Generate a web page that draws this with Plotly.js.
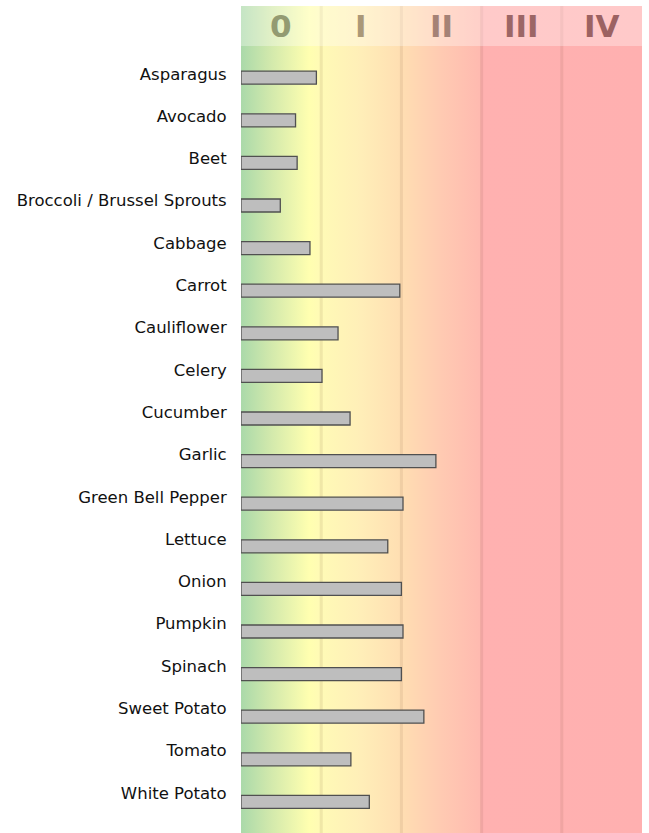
<!DOCTYPE html>
<html>
<head>
<meta charset="utf-8">
<script src="https://cdn.plot.ly/plotly-3.0.1.min.js"></script>
<style>html,body{margin:0;padding:0;background:#fff;}#chart{width:649px;height:833px;}</style>
</head>
<body>
<div id="chart"></div>
<script>
// ---- data ----
var vegetables = ["Asparagus","Avocado","Beet","Broccoli / Brussel Sprouts","Cabbage","Carrot",
  "Cauliflower","Celery","Cucumber","Garlic","Green Bell Pepper","Lettuce","Onion","Pumpkin",
  "Spinach","Sweet Potato","Tomato","White Potato"];
var levels = [0.94,0.68,0.70,0.49,0.86,1.98,1.21,1.01,1.36,2.43,2.02,1.83,2.00,2.02,2.00,2.28,1.37,1.60];
var zoneLabels = ["0","I","II","III","IV"];

// ---- style ----
var zoneLabelColors = ["#939b72","#aa9878","#a58276","#9c6666","#9c6262"];
var W = 649, H = 833;
var M = {l:241, r:7, t:6, b:0};
var plotH = H - M.t - M.b;         // background axis in pixel-like units
var headerH = 40;
var xMax = zoneLabels.length;

function catRange(firstCenter, pitch){
  var t = -(firstCenter - M.t)/pitch;
  return [t + plotH/pitch, t];
}

var traces = [];
// gradient background
traces.push({
  type:"scatter", mode:"lines", x:[0,xMax,xMax,0,0], y:[0,0,plotH,plotH,0],
  fill:"toself", line:{width:0}, hoverinfo:"skip", showlegend:false,
  fillgradient:{type:"horizontal", start:0, stop:xMax, colorscale:[
    [0.00,"rgb(170,217,170)"],
    [0.07,"rgb(208,232,172)"],
    [0.17,"rgb(255,255,176)"],
    [0.20,"rgb(255,250,182)"],
    [0.30,"rgb(255,238,184)"],
    [0.40,"rgb(255,222,178)"],
    [0.50,"rgb(255,202,178)"],
    [0.595,"rgb(255,186,176)"],
    [0.60,"rgb(255,177,176)"],
    [1.00,"rgb(255,176,176)"]]},
  xaxis:"x", yaxis:"y"
});
// zone separators
for (var b = 1; b < zoneLabels.length; b++) {
  traces.push({type:"scatter", mode:"lines", x:[b,b], y:[0,plotH],
    line:{color:"rgba(90,40,20,0.09)", width:3}, hoverinfo:"skip", showlegend:false,
    xaxis:"x", yaxis:"y"});
}
// invisible carrier for the category labels
traces.push({type:"scatter", mode:"markers", x:levels.map(function(){return 0;}), y:vegetables,
  marker:{opacity:0, size:1}, hoverinfo:"skip", showlegend:false, xaxis:"x", yaxis:"y2"});
// bars
var barW = 0.306;
traces.push({
  type:"bar", orientation:"h", x:levels, y:vegetables, xaxis:"x", yaxis:"y3",
  width:barW, offset:-barW/2,
  marker:{color:"#bebebe", line:{color:"#505050", width:1.3}},
  hoverinfo:"x+y", showlegend:false
});

var annotations = zoneLabels.map(function(t,i){
  return {text:t, x:i+0.5, y:plotH-headerH/2, xref:"x", yref:"y", showarrow:false,
    xanchor:"center", yanchor:"middle",
    font:{family:"DejaVu Sans", size:31, weight:"bold", color:zoneLabelColors[i]}};
});

var layout = {
  width:W, height:H, margin:{l:M.l, r:M.r, t:M.t, b:M.b, pad:0},
  paper_bgcolor:"#ffffff", plot_bgcolor:"#ffffff", showlegend:false,
  xaxis:{range:[0,xMax], visible:false, fixedrange:true},
  yaxis:{range:[0,plotH], visible:false, fixedrange:true},
  yaxis2:{overlaying:"y", side:"left", type:"category", categoryarray:vegetables,
    categoryorder:"array", range:catRange(73.8, 42.3), showgrid:false, zeroline:false, showline:false,
    ticks:"outside", ticklen:10, tickcolor:"rgba(0,0,0,0)",
    tickfont:{family:"DejaVu Sans", size:16.5, color:"#111111"}, fixedrange:true},
  yaxis3:{overlaying:"y", side:"left", type:"category", categoryarray:vegetables,
    categoryorder:"array", range:catRange(77.7, 42.6), visible:false, fixedrange:true},
  shapes:[{type:"rect", xref:"paper", yref:"y", x0:0, x1:1, y0:plotH-headerH, y1:plotH,
    fillcolor:"rgba(255,255,255,0.32)", line:{width:0}, layer:"above"}],
  annotations:annotations
};
Plotly.newPlot("chart", traces, layout, {displayModeBar:false, staticPlot:true});
</script>
</body>
</html>
